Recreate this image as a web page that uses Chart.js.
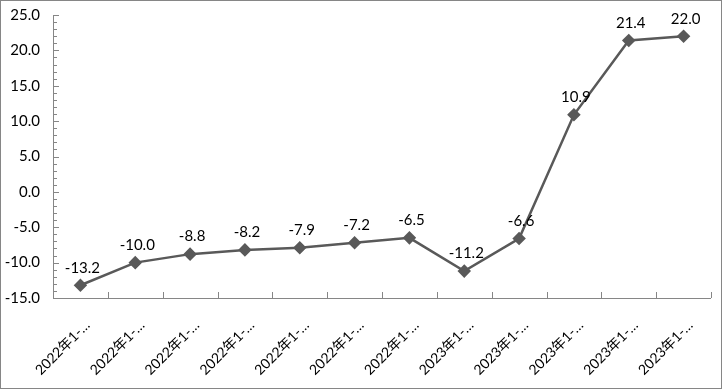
<!DOCTYPE html>
<html>
<head>
<meta charset="utf-8">
<script src="https://cdn.jsdelivr.net/npm/chart.js@4/dist/chart.umd.min.js"></script>
<style>
  body { margin: 0; background: #fff; }
  #wrap { width: 720px; height: 387px; border: 1px solid #868686; }
</style>
</head>
<body>
<div id="wrap"><canvas id="chart" width="720" height="387"></canvas></div>
<script>
// 数据
const categories = [
  "2022年1-…", "2022年1-…", "2022年1-…", "2022年1-…", "2022年1-…", "2022年1-…",
  "2022年1-…", "2023年1-…", "2023年1-…", "2023年1-…", "2023年1-…", "2023年1-…"
];
const values = [-13.2, -10.0, -8.8, -8.2, -7.9, -7.2, -6.5, -11.2, -6.6, 10.9, 21.4, 22.0];
const yMin = -15, yMax = 25, yStep = 5;

const axisColor = "#868686";
const lineColor = "#595959";
const fontFamily = "Lato, 'Noto Sans CJK SC', sans-serif";

// 刻度线画在坐标轴内侧（Excel 风格）
const innerTicks = {
  id: "innerTicks",
  afterDraw(chart) {
    const ctx = chart.ctx;
    const x = chart.scales.x, y = chart.scales.y;
    ctx.save();
    ctx.strokeStyle = axisColor;
    ctx.lineWidth = 1;
    ctx.beginPath();
    // y 轴线
    ctx.moveTo(x.left + 0.5, y.top);
    ctx.lineTo(x.left + 0.5, y.bottom);
    // x 轴线
    ctx.moveTo(x.left, y.bottom + 0.5);
    ctx.lineTo(x.right, y.bottom + 0.5);
    // y 主次刻度
    for (let v = yMin; v <= yMax; v++) {
      let py = Math.round(y.getPixelForValue(v)) + 0.5;
      let len = (v % yStep === 0) ? 6 : 4;
      ctx.moveTo(x.left, py);
      ctx.lineTo(x.left + len, py);
    }
    // x 分类刻度
    for (let i = 0; i <= categories.length; i++) {
      let px = Math.round(x.getPixelForValue(i - 0.5)) + 0.5;
      ctx.moveTo(px, y.bottom);
      ctx.lineTo(px, y.bottom - 6);
    }
    ctx.stroke();
    ctx.restore();
  }
};

// 数据标签
const dataLabels = {
  id: "dataLabels",
  afterDatasetsDraw(chart) {
    const ctx = chart.ctx;
    const meta = chart.getDatasetMeta(0);
    ctx.save();
    ctx.font = "15px " + fontFamily;
    ctx.fillStyle = "#000";
    ctx.textAlign = "center";
    ctx.textBaseline = "bottom";
    meta.data.forEach((pt, i) => {
      ctx.fillText(values[i].toFixed(1), pt.x + 2, pt.y - 10);
    });
    ctx.restore();
  }
};

new Chart(document.getElementById("chart"), {
  type: "line",
  data: {
    labels: categories,
    datasets: [{
      data: values,
      borderColor: lineColor,
      backgroundColor: lineColor,
      borderWidth: 2.5,
      pointStyle: "rectRot",
      pointRadius: 5,
      pointHoverRadius: 5,
      tension: 0
    }]
  },
  options: {
    responsive: false,
    animation: false,
    layout: { padding: { top: 7, right: 10, left: 0, bottom: 0 } },
    plugins: {
      legend: { display: false },
      tooltip: { enabled: false },
      title: { display: false }
    },
    scales: {
      x: {
        offset: true,
        border: { display: false },
        grid: { display: false },
        ticks: {
          autoSkip: false,
          maxRotation: 45,
          minRotation: 45,
          color: "#000",
          padding: 11,
          labelOffset: 7,
          font: { family: fontFamily, size: 14 }
        },
        afterFit(scale) { scale.height = 90; }
      },
      y: {
        min: yMin,
        max: yMax,
        border: { display: false },
        grid: { display: false },
        ticks: {
          stepSize: yStep,
          color: "#000",
          padding: 5,
          font: { family: fontFamily, size: 15 },
          callback: v => v.toFixed(1)
        },
        afterFit(scale) { scale.width = 52; }
      }
    }
  },
  plugins: [innerTicks, dataLabels]
});
</script>
</body>
</html>
